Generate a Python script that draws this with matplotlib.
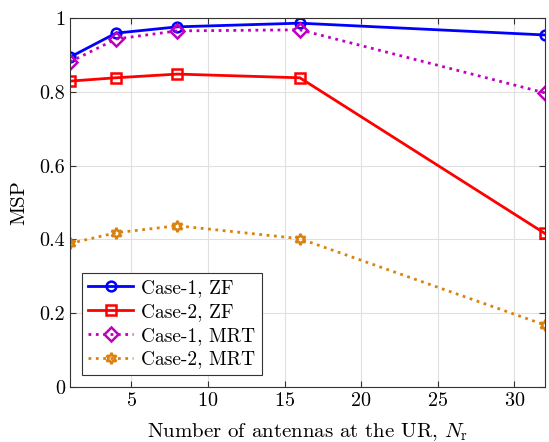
import matplotlib.pyplot as plt

plt.rcParams['font.family'] = 'serif'
plt.rcParams['font.serif'] = ['cmr10', 'DejaVu Serif']
plt.rcParams['mathtext.fontset'] = 'cm'
plt.rcParams['axes.formatter.use_mathtext'] = True

n_r = [1, 4, 8, 16, 32]
case1_zf = [0.894, 0.959, 0.976, 0.986, 0.954]
case2_zf = [0.829, 0.838, 0.848, 0.838, 0.416]
case1_mrt = [0.881, 0.943, 0.965, 0.968, 0.797]
case2_mrt = [0.389, 0.418, 0.437, 0.402, 0.168]

fig = plt.figure(figsize=(5.49, 4.42), dpi=100)
ax = fig.add_axes([70 / 549, 55 / 442, 475 / 549, 369 / 442])

ax.plot(n_r, case1_zf, '-o', color='blue', lw=2, ms=7, mfc='none', mew=1.8,
        label='Case-1, ZF')
ax.plot(n_r, case2_zf, '-s', color='red', lw=2, ms=7, mfc='none', mew=1.8,
        label='Case-2, ZF')
ax.plot(n_r, case1_mrt, ':D', color='#BF00BF', lw=2, ms=7, mfc='none', mew=1.8,
        label='Case-1, MRT')
ax.plot(n_r, case2_mrt, ':', marker=(6, 1, 0), color='#D9820F', lw=2, ms=8,
        mfc='none', mew=1.8, label='Case-2, MRT')

ax.set_xlim(1, 32)
ax.set_ylim(0, 1)
ax.set_xticks([5, 10, 15, 20, 25, 30])
ax.set_yticks([0, 0.2, 0.4, 0.6, 0.8, 1])
ax.set_yticklabels(['0', '0.2', '0.4', '0.6', '0.8', '1'])
ax.tick_params(direction='in', top=True, right=True, labelsize=14.5,
               color='#333333', length=4)
ax.grid(True, color='#e0e0e0', lw=0.8)
ax.set_axisbelow(True)
for s in ax.spines.values():
    s.set_color('#333333')
    s.set_linewidth(0.8)

ax.set_xlabel(r'Number of antennas at the UR, $N_{\mathrm{r}}$', fontsize=15,
              labelpad=8)
ax.set_ylabel('MSP', fontsize=15, labelpad=8)

leg = ax.legend(loc='lower left', fontsize=14, fancybox=False,
                edgecolor='#333333', framealpha=1, borderpad=0.35,
                labelspacing=0.3, handlelength=2.3, handletextpad=0.4,
                borderaxespad=0.6)
leg.get_frame().set_linewidth(0.8)

fig.savefig('out.png', dpi=100)
